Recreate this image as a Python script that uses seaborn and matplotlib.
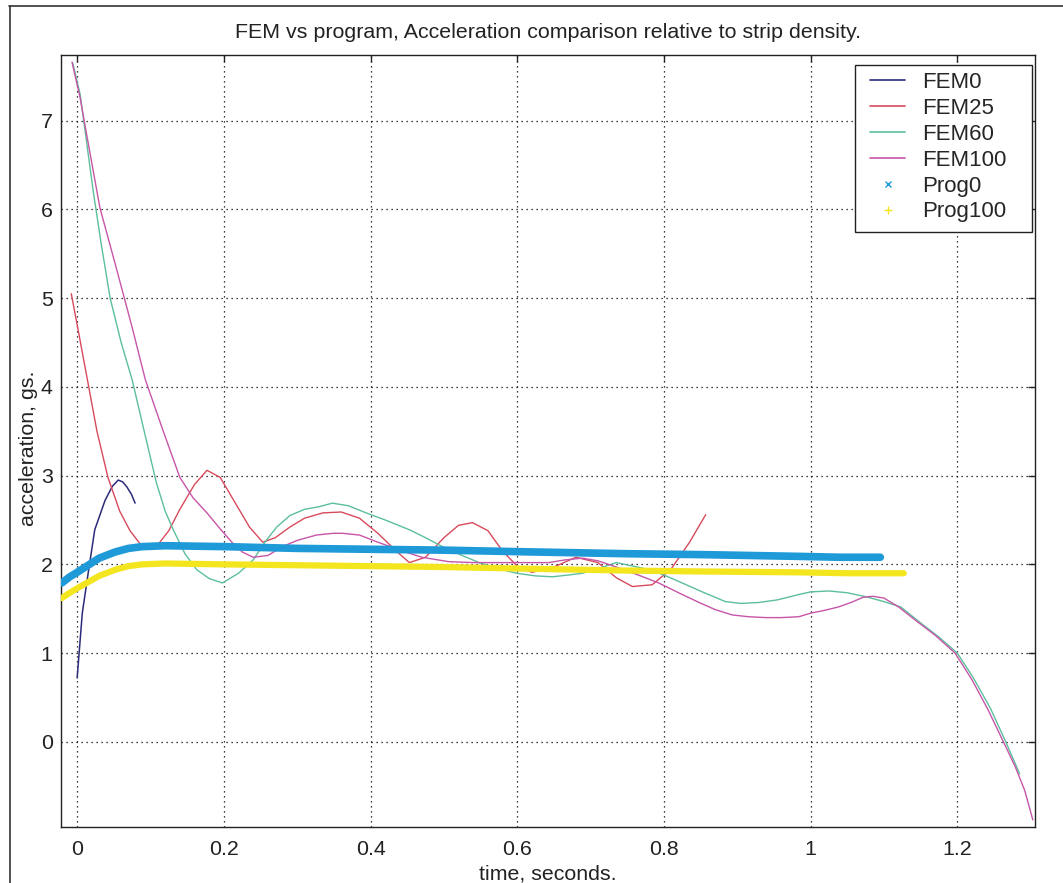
import numpy as np
import pandas as pd
import matplotlib
matplotlib.use("Agg")
import matplotlib.pyplot as plt
from matplotlib.lines import Line2D
from matplotlib.patches import Rectangle
import seaborn as sns

# ---------------- data ----------------
fem0_t = [0.0, 0.007, 0.015, 0.024, 0.038, 0.048, 0.056, 0.062, 0.068, 0.074, 0.079]
fem0_a = [0.72, 1.45, 1.90, 2.39, 2.72, 2.88, 2.95, 2.93, 2.87, 2.79, 2.69]

fem25_t = [-0.008, 0.0, 0.014, 0.027, 0.042, 0.058, 0.072, 0.085, 0.097, 0.11, 0.125,
           0.14, 0.16, 0.177, 0.195, 0.215, 0.235, 0.253, 0.27, 0.29, 0.31, 0.335,
           0.36, 0.385, 0.41, 0.435, 0.453, 0.475, 0.5, 0.52, 0.539, 0.56, 0.58,
           0.60, 0.62, 0.65, 0.68, 0.71, 0.735, 0.757, 0.784, 0.81, 0.835, 0.857]
fem25_a = [5.05, 4.70, 4.08, 3.50, 2.98, 2.60, 2.38, 2.24, 2.18, 2.22, 2.38,
           2.62, 2.90, 3.06, 2.98, 2.70, 2.42, 2.25, 2.30, 2.42, 2.52, 2.58,
           2.59, 2.52, 2.35, 2.15, 2.02, 2.08, 2.30, 2.44, 2.47, 2.38, 2.15,
           1.98, 1.91, 1.97, 2.08, 2.02, 1.85, 1.75, 1.77, 1.95, 2.25, 2.56]

fem60_t = [-0.006, 0.004, 0.013, 0.022, 0.033, 0.045, 0.06, 0.075, 0.09, 0.108, 0.12,
           0.131, 0.147, 0.163, 0.18, 0.198, 0.22, 0.24, 0.256, 0.272, 0.29, 0.31,
           0.33, 0.348, 0.37, 0.394, 0.42, 0.453, 0.475, 0.498, 0.525, 0.548, 0.575,
           0.599, 0.625, 0.648, 0.67, 0.689, 0.71, 0.735, 0.758, 0.78, 0.80, 0.825,
           0.855, 0.884, 0.905, 0.929, 0.955, 0.984, 1.0, 1.025, 1.05, 1.078, 1.1,
           1.123, 1.15, 1.175, 1.2, 1.222, 1.245, 1.265, 1.285]
fem60_a = [7.65, 7.30, 6.75, 6.20, 5.60, 5.00, 4.50, 4.08, 3.55, 2.92, 2.60,
           2.39, 2.12, 1.94, 1.84, 1.79, 1.90, 2.05, 2.25, 2.42, 2.55, 2.62,
           2.65, 2.69, 2.66, 2.58, 2.50, 2.39, 2.30, 2.20, 2.10, 2.02, 1.95,
           1.90, 1.87, 1.86, 1.88, 1.90, 1.95, 2.02, 1.98, 1.94, 1.88, 1.79,
           1.68, 1.58, 1.56, 1.57, 1.60, 1.66, 1.69, 1.70, 1.68, 1.63, 1.58,
           1.52, 1.34, 1.18, 1.00, 0.72, 0.38, 0.02, -0.36]

fem100_t = [-0.007, 0.004, 0.015, 0.031, 0.054, 0.075, 0.093, 0.117, 0.14, 0.158, 0.177,
            0.195, 0.212, 0.225, 0.24, 0.26, 0.28, 0.30, 0.326, 0.349, 0.362, 0.385,
            0.41, 0.44, 0.47, 0.507, 0.54, 0.575, 0.61, 0.643, 0.665, 0.689, 0.71,
            0.735, 0.765, 0.793, 0.82, 0.848, 0.87, 0.893, 0.915, 0.939, 0.96, 0.984,
            1.0, 1.018, 1.038, 1.055, 1.072, 1.085, 1.1, 1.12, 1.143, 1.17, 1.197,
            1.22, 1.242, 1.26, 1.279, 1.292, 1.303]
fem100_a = [7.66, 7.26, 6.75, 6.02, 5.32, 4.67, 4.08, 3.51, 2.98, 2.75, 2.58,
            2.40, 2.24, 2.14, 2.08, 2.10, 2.20, 2.27, 2.33, 2.35, 2.35, 2.33,
            2.25, 2.16, 2.08, 2.03, 2.02, 2.02, 2.02, 2.02, 2.05, 2.07, 2.04,
            1.97, 1.88, 1.79, 1.68, 1.57, 1.49, 1.43, 1.41, 1.40, 1.40, 1.41,
            1.45, 1.48, 1.52, 1.57, 1.63, 1.64, 1.62, 1.52, 1.37, 1.20, 1.00,
            0.70, 0.36, 0.05, -0.28, -0.55, -0.88]

prog0_t = [-0.021, -0.01, 0.0, 0.015, 0.03, 0.052, 0.07, 0.089, 0.12, 0.2, 0.3,
           0.4, 0.5, 0.62, 0.75, 0.85, 0.984, 1.04, 1.095]
prog0_a = [1.79, 1.86, 1.91, 1.99, 2.07, 2.14, 2.18, 2.20, 2.21, 2.20, 2.18,
           2.17, 2.16, 2.14, 2.12, 2.11, 2.09, 2.08, 2.08]

prog100_t = [-0.021, -0.01, 0.0, 0.015, 0.03, 0.052, 0.07, 0.089, 0.12, 0.2, 0.3,
             0.4, 0.5, 0.62, 0.75, 0.85, 0.984, 1.05, 1.127]
prog100_a = [1.62, 1.68, 1.73, 1.80, 1.87, 1.94, 1.98, 2.00, 2.01, 2.00, 1.99,
             1.98, 1.97, 1.95, 1.93, 1.92, 1.91, 1.90, 1.90]

series_names = ["FEM0", "FEM25", "FEM60", "FEM100", "Prog0", "Prog100"]
x_ticks = [0, 0.2, 0.4, 0.6, 0.8, 1.0, 1.2]
x_tick_labels = ["0", "0.2", "0.4", "0.6", "0.8", "1", "1.2"]
y_ticks = [0, 1, 2, 3, 4, 5, 6, 7]

# ---------------- styling ----------------
sns.set_style("white")
plt.rcParams["font.family"] = ["Liberation Sans", "DejaVu Sans"]
FS = 15.4

colors = {
    "FEM0": "#2b2b7a",
    "FEM25": "#d84a5c",
    "FEM60": "#5cbf9c",
    "FEM100": "#c755a8",
    "Prog0": "#1e9ad8",
    "Prog100": "#f3e51e",
}
widths = {"FEM0": 1.1, "FEM25": 1.0, "FEM60": 1.0, "FEM100": 1.0,
          "Prog0": 5.5, "Prog100": 4.5}

data = {
    "FEM0": (fem0_t, fem0_a),
    "FEM25": (fem25_t, fem25_a),
    "FEM60": (fem60_t, fem60_a),
    "FEM100": (fem100_t, fem100_a),
    "Prog0": (prog0_t, prog0_a),
    "Prog100": (prog100_t, prog100_a),
}

fig = plt.figure(figsize=(10.63, 8.83), dpi=100)
ax = fig.add_axes([0.0574, 0.0634, 0.9163, 0.8743])

for name in series_names:
    t, a = data[name]
    df = pd.DataFrame({"t": t, "a": a})
    sns.lineplot(data=df, x="t", y="a", ax=ax, color=colors[name],
                 linewidth=widths[name], estimator=None, sort=False,
                 zorder=3 if name.startswith("Prog") else 2)

ax.set_xlim(-0.022, 1.306)
ax.set_ylim(-0.96, 7.74)
ax.set_xticks(x_ticks)
ax.set_xticklabels(x_tick_labels)
ax.set_yticks(y_ticks)
ax.grid(True, linestyle=(0, (1, 3)), color="black", linewidth=0.9)
ax.tick_params(direction="in", length=5, width=1, top=True, right=True,
               labelsize=FS, colors="#222222")
ax.tick_params(axis="x", pad=9)
ax.tick_params(axis="y", pad=6)
for s in ax.spines.values():
    s.set_color("#222222")
    s.set_linewidth(1.0)

ax.set_title("FEM vs program, Acceleration comparison relative to strip density.",
             fontsize=FS, pad=12, color="#222222")
ax.set_xlabel("time, seconds.", fontsize=FS, color="#222222")
ax.set_ylabel("acceleration, gs.", fontsize=FS, color="#222222")
ax.xaxis.set_label_coords(0.5, -0.048)
ax.yaxis.set_label_coords(-0.0235, 0.49)

# legend: framed box drawn separately so the padding matches the reference
ax.add_patch(Rectangle((0.8152, 0.7707), 0.1817, 0.2163, transform=ax.transAxes,
                       facecolor="white", edgecolor="#222222", linewidth=1.0,
                       zorder=4.5, clip_on=False))
handles = []
for name in series_names:
    if name == "Prog0":
        handles.append(Line2D([], [], color=colors[name], marker="x", linestyle="none",
                              markersize=5))
    elif name == "Prog100":
        handles.append(Line2D([], [], color=colors[name], marker="+", linestyle="none",
                              markersize=6))
    else:
        handles.append(Line2D([], [], color=colors[name], linewidth=1.2))
leg = ax.legend(handles, series_names, loc="upper left",
                bbox_to_anchor=(0.8306, 0.978), borderaxespad=0, frameon=False,
                fontsize=16, handlelength=1.58, labelspacing=0.22,
                handletextpad=0.77, borderpad=0.0)
leg.set_zorder(5)

# outer figure frame (top and left edges visible in the scan)
fig.add_artist(Line2D([0.008, 1.0], [0.993, 0.993], transform=fig.transFigure,
                      color="#333333", linewidth=1.2))
fig.add_artist(Line2D([0.009, 0.009], [0.0, 0.993], transform=fig.transFigure,
                      color="#333333", linewidth=1.2))

fig.savefig("out.png", dpi=100)
